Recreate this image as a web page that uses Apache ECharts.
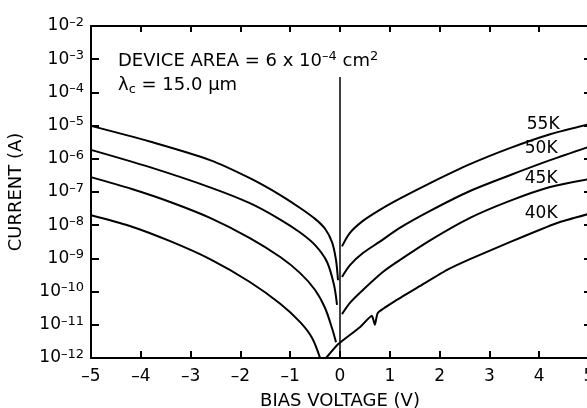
<!DOCTYPE html>
<html>
<head>
<meta charset="utf-8">
<title>Current vs bias voltage</title>
<script src="https://cdn.jsdelivr.net/npm/echarts@6.0.0/dist/echarts.min.js"></script>
<style>
    html, body { margin: 0; padding: 0; background: #fff; }
    #chart { width: 587px; height: 408px; }
</style>
</head>
<body>
<div id="chart"></div>
<script>
// --- Dados: [tensão (V), corrente (A)] ---
const xTicks = [-5, -4, -3, -2, -1, 0, 1, 2, 3, 4, 5];
const yExponents = [-12, -11, -10, -9, -8, -7, -6, -5, -4, -3, -2];
const temperatures = ['55K', '50K', '45K', '40K'];

const t55Left = [[-5, 9.8e-6], [-3.82, 3.3e-6], [-2.61, 9.1e-7], [-1.81, 2.6e-7], [-1.2, 8.1e-8],
    [-0.8, 3.3e-8], [-0.5, 1.55e-8], [-0.3, 7.8e-9], [-0.16, 3.1e-9], [-0.08, 8.9e-10], [-0.04, 2.2e-10]];
const t55Right = [[0.04, 2.3e-9], [0.2, 5.9e-9], [0.46, 1.35e-8], [0.8, 2.9e-8], [1.2, 6.3e-8],
    [1.81, 1.86e-7], [2.61, 6.9e-7], [3.41, 2.1e-6], [4.22, 5.5e-6], [5, 1.1e-5]];

const t50Left = [[-5, 1.86e-6], [-3.82, 5.6e-7], [-2.61, 1.38e-7], [-1.81, 4.6e-8], [-1.2, 1.48e-8],
    [-0.8, 6.0e-9], [-0.5, 2.5e-9], [-0.26, 7.8e-10], [-0.12, 1.58e-10], [-0.06, 4.0e-11]];
const t50Right = [[0.04, 2.75e-10], [0.2, 6.3e-10], [0.46, 1.45e-9], [0.8, 3.2e-9], [1.2, 8.3e-9],
    [1.81, 2.7e-8], [2.61, 1.07e-7], [3.41, 3.2e-7], [4.22, 9.1e-7], [5, 2.3e-6]];

const t45Left = [[-5, 2.8e-7], [-4.18, 1.23e-7], [-3.41, 5.0e-8], [-2.61, 1.66e-8], [-1.81, 4.1e-9],
    [-1.2, 1.1e-9], [-0.8, 3.6e-10], [-0.5, 1.12e-10], [-0.3, 3.2e-11], [-0.16, 7.9e-12], [-0.08, 3.0e-12]];
const t45Right = [[0.04, 2.1e-11], [0.2, 4.6e-11], [0.46, 1.12e-10], [0.86, 3.9e-10], [1.2, 8.9e-10],
    [1.81, 3.5e-9], [2.61, 1.66e-8], [3.41, 5.4e-8], [4.22, 1.41e-7], [5, 2.45e-7]];

const t40Left = [[-5, 2.0e-8], [-4.22, 9.5e-9], [-3.41, 3.3e-9], [-2.61, 9.5e-10], [-1.81, 1.95e-10],
    [-1.2, 4.3e-11], [-0.8, 1.2e-11], [-0.56, 4.0e-12], [-0.4, 1e-12]];
const t40Right = [[-0.28, 1e-12], [-0.04, 2.6e-12], [0.4, 8.5e-12], [0.64, 1.86e-11], [0.7, 1.0e-11],
    [0.76, 2.3e-11], [1.14, 5.6e-11], [1.61, 1.48e-10], [2.15, 4.5e-10], [2.61, 9.5e-10],
    [3.41, 3.1e-9], [4.36, 1.17e-8], [5, 2.2e-8]];

// linha vertical em V = 0
const zeroLine = [[0, 2.9e-4], [0, 1e-12]];
// posição dos rótulos de temperatura [V, I]
const labelAnchors = [[4.08, 1.05e-5], [4.04, 2.0e-6], [4.04, 2.6e-7], [4.04, 2.2e-8]];

const FONT = 'DejaVu Sans';
const INK = '#000';

const chart = echarts.init(document.getElementById('chart'), null, { renderer: 'canvas' });

const expOf = v => Math.round(Math.log10(v));
const minus = n => (n < 0 ? '\u2013' + (-n) : String(n));

const lineSeries = (data, extra) => Object.assign({
    type: 'line',
    data: data,
    showSymbol: false,
    smooth: 0.3,
    silent: true,
    animation: false,
    lineStyle: { color: INK, width: 2 },
    itemStyle: { color: INK }
}, extra || {});

const tagPoint = (i) => ({
    markPoint: {
        symbol: 'circle',
        symbolSize: 1,
        itemStyle: { color: 'rgba(0,0,0,0)' },
        silent: true,
        label: { show: true, position: 'inside', color: INK, fontSize: 17, fontFamily: FONT, formatter: temperatures[i] },
        data: [{ coord: labelAnchors[i] }]
    }
});

const axisLineStyle = { onZero: false, lineStyle: { color: INK, width: 2 } };
const ticks = len => ({ show: true, inside: true, length: len, lineStyle: { color: INK, width: 2 } });

const option = {
    backgroundColor: '#fff',
    animation: false,
    grid: { left: 91, right: -2, top: 26, bottom: 50, outerBoundsMode: 'none', containLabel: false },
    xAxis: [
        {
            type: 'value', min: xTicks[0], max: xTicks[xTicks.length - 1], interval: 1, position: 'bottom',
            axisLine: axisLineStyle,
            axisTick: ticks(7),
            axisLabel: { formatter: v => minus(v), color: INK, fontSize: 17, fontFamily: FONT, margin: 10 },
            splitLine: { show: false },
            name: 'BIAS VOLTAGE (V)', nameLocation: 'middle', nameGap: 34,
            nameTextStyle: { color: INK, fontSize: 18, fontFamily: FONT }
        },
        {
            type: 'value', min: xTicks[0], max: xTicks[xTicks.length - 1], interval: 1, position: 'top',
            axisLine: axisLineStyle,
            axisTick: ticks(6),
            axisLabel: { show: false },
            splitLine: { show: false }
        }
    ],
    yAxis: [
        {
            type: 'log', logBase: 10, min: Math.pow(10, yExponents[0]), max: Math.pow(10, yExponents[yExponents.length - 1]),
            interval: 1, position: 'left',
            axisLine: axisLineStyle,
            axisTick: ticks(8),
            axisLabel: {
                margin: 7,
                formatter: v => '{b|10}{s|' + minus(expOf(v)) + '}',
                rich: {
                    b: { color: INK, fontSize: 17, fontFamily: FONT, lineHeight: 20 },
                    s: { color: INK, fontSize: 13, fontFamily: FONT, lineHeight: 9, verticalAlign: 'top' }
                }
            },
            splitLine: { show: false },
            name: 'CURRENT (A)', nameLocation: 'middle', nameGap: 66, nameRotate: 90,
            nameTextStyle: { color: INK, fontSize: 18, fontFamily: FONT }
        },
        {
            type: 'log', logBase: 10, min: Math.pow(10, yExponents[0]), max: Math.pow(10, yExponents[yExponents.length - 1]),
            interval: 1, position: 'right',
            axisLine: axisLineStyle,
            axisTick: ticks(5),
            axisLabel: { show: false },
            splitLine: { show: false }
        }
    ],
    graphic: [
        {
            type: 'text', left: 118, top: 50, silent: true,
            style: {
                text: '{a|DEVICE AREA = 6 x 10}{s|\u20134}{a| cm}{s|2}',
                rich: {
                    a: { fill: INK, fontSize: 18, fontFamily: FONT, lineHeight: 22 },
                    s: { fill: INK, fontSize: 13, fontFamily: FONT, lineHeight: 10, verticalAlign: 'top' }
                }
            }
        },
        {
            type: 'text', left: 118, top: 76, silent: true,
            style: {
                text: '{a|\u03bb}{c|c}{a| = 15.0 \u03bcm}',
                rich: {
                    a: { fill: INK, fontSize: 18, fontFamily: FONT, lineHeight: 22 },
                    c: { fill: INK, fontSize: 13, fontFamily: FONT, lineHeight: 14, verticalAlign: 'bottom' }
                }
            }
        }
    ],
    series: [
        lineSeries(t55Left, {
            markLine: {
                symbol: 'none', silent: true, animation: false,
                label: { show: false },
                lineStyle: { color: INK, width: 1.5, type: 'solid' },
                data: [[{ coord: zeroLine[0] }, { coord: zeroLine[1] }]]
            }
        }),
        lineSeries(t55Right, tagPoint(0)),
        lineSeries(t50Left),
        lineSeries(t50Right, tagPoint(1)),
        lineSeries(t45Left),
        lineSeries(t45Right, tagPoint(2)),
        lineSeries(t40Left),
        lineSeries(t40Right, Object.assign({ smooth: 0.15 }, tagPoint(3)))
    ]
};

chart.setOption(option);
</script>
</body>
</html>
